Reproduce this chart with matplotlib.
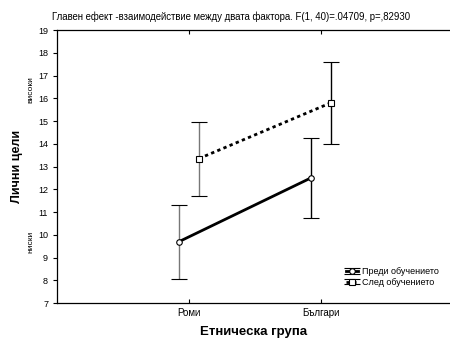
import matplotlib

matplotlib.use("Agg")

import matplotlib.pyplot as plt
import numpy as np
from matplotlib.legend_handler import HandlerErrorbar

plt.rcParams["font.family"] = ["Liberation Sans", "DejaVu Sans"]

groups = ["Роми", "Българи"]
series = ["Преди обучението", "След обучението"]
means_before = [9.7, 12.5]
err_lo_before = [8.05, 10.75]
err_hi_before = [11.3, 14.25]
means_after = [13.35, 15.8]
err_lo_after = [11.7, 14.0]
err_hi_after = [14.95, 17.6]
yticks = np.arange(7, 20)

fig = plt.figure(figsize=(4.5, 3.42), dpi=100)
ax = fig.add_axes([0.127, 0.114, 0.873, 0.798])

x = np.arange(1, len(groups) + 1)
offset = 0.075


def draw(xs, means, lo, hi, style, marker, label):
    means = np.array(means)
    yerr = [means - np.array(lo), np.array(hi) - means]
    cont = ax.errorbar(xs, means, yerr=yerr, color="black", linestyle=style,
                       linewidth=2, marker=marker, markersize=4,
                       markerfacecolor="white", markeredgecolor="black",
                       markeredgewidth=0.8, ecolor="black", elinewidth=1.0,
                       capsize=6, capthick=1.2, label=label)
    # first group's bars are drawn lighter, as in the reference
    cont.lines[2][0].set_colors(["#777777", "black"])
    cont.lines[0].set_zorder(3)


draw(x - offset, means_before, err_lo_before, err_hi_before,
     "-", "o", series[0])
draw(x + offset, means_after, err_lo_after, err_hi_after,
     (0, (1.2, 1.2)), "s", series[1])

ax.set_xlim(0, 2.98)
ax.set_ylim(7, 19)
ax.set_yticks(yticks)
ax.set_xticks(x)
ax.set_xticklabels(groups, fontsize=7)
ax.tick_params(axis="y", labelsize=6.5, direction="out", length=3, width=0.8)
ax.tick_params(axis="x", direction="in", length=3, width=0.8, top=True)
ax.spines["right"].set_visible(False)
for s in ["left", "bottom", "top"]:
    ax.spines[s].set_linewidth(0.9)

ax.set_xlabel("Етническа група", fontsize=9.5, fontweight="bold", labelpad=6)
ax.set_ylabel("Лични цели", fontsize=9, fontweight="bold")
ax.yaxis.set_label_coords(-0.087, 0.5)
ax.text(-0.066, 16.4, "високи", rotation=90, fontsize=6,
        transform=ax.get_yaxis_transform(), ha="center", va="center")
ax.text(-0.066, 9.7, "ниски", rotation=90, fontsize=6,
        transform=ax.get_yaxis_transform(), ha="center", va="center")

fig.text(0.513, 0.952,
         "Главен ефект -взаимодействие между двата фактора. F(1, 40)=.04709, p=,82930",
         fontsize=6.9, ha="center", va="center")

ax.legend(loc="lower right", bbox_to_anchor=(0.985, 0.04), fontsize=6.5,
          frameon=False, handlelength=1.4, handletextpad=0.4,
          labelspacing=0.15, borderaxespad=0.2,
          handler_map={type(ax.containers[0]): HandlerErrorbar(yerr_size=0.3)})

fig.savefig("out.png", dpi=100)
